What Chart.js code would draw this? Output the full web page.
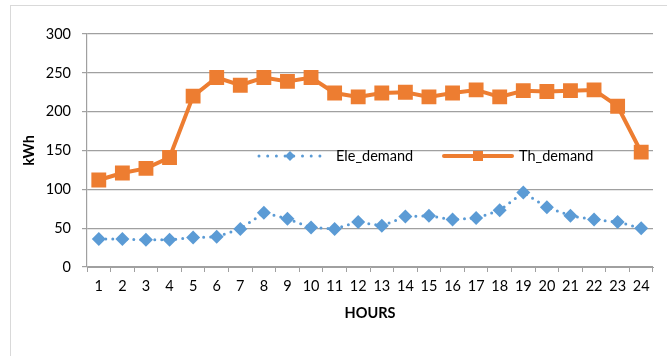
<!DOCTYPE html>
<html>
<head>
<meta charset="utf-8">
<script src="https://cdn.jsdelivr.net/npm/chart.js@4"></script>
<style>
  html, body { margin: 0; padding: 0; background: #fff; }
  #wrap { position: relative; width: 667px; height: 356px; overflow: hidden; }
  #frame { position: absolute; left: 10px; top: 5px; width: 700px; height: 400px; border: 1px solid #d9d9d9; box-sizing: border-box; }
  #demand_chart { position: absolute; left: 0; top: 0; }
</style>
</head>
<body>
<div id="wrap">
  <div id="frame"></div>
  <canvas id="demand_chart" width="667" height="356"></canvas>
</div>
<script>
const hours = ['1', '2', '3', '4', '5', '6', '7', '8', '9', '10', '11', '12',
  '13', '14', '15', '16', '17', '18', '19', '20', '21', '22', '23', '24'];

const ele_demand = [36, 36, 35, 35, 38, 39, 49, 70, 62, 51, 49, 58,
  53, 65, 66, 61, 63, 73, 96, 77, 66, 61, 58, 50];

const th_demand = [112, 121, 127, 141, 220, 244, 234, 244, 239, 244, 224, 219,
  224, 225, 219, 224, 228, 219, 227, 226, 227, 228, 207, 148];

const yTicks = [0, 50, 100, 150, 200, 250, 300];

const blue = '#5b9bd5';
const orange = '#ed7d31';
const gridGray = '#a0a0a0';
const fontFamily = 'Lato, "Open Sans", sans-serif';
const textSize = 14.5;

// legend sits inside the plot, drawn by hand so it can float over the gridlines
const floatingLegend = {
  id: 'floatingLegend',
  afterDraw(chart, args, opts) {
    const { ctx } = chart;
    const y = opts.y;
    ctx.save();

    // Ele_demand sample: dotted line with a diamond
    ctx.strokeStyle = blue;
    ctx.lineWidth = 3;
    ctx.lineCap = 'round';
    ctx.setLineDash([0, 8.7]);
    ctx.beginPath();
    ctx.moveTo(259, y);
    ctx.lineTo(322, y);
    ctx.stroke();
    ctx.setLineDash([]);
    ctx.fillStyle = blue;
    ctx.beginPath();
    ctx.moveTo(290 - 5, y);
    ctx.lineTo(290, y - 5);
    ctx.lineTo(290 + 5, y);
    ctx.lineTo(290, y + 5);
    ctx.closePath();
    ctx.fill();

    // Th_demand sample: solid line with a square
    ctx.strokeStyle = orange;
    ctx.lineWidth = 4;
    ctx.lineCap = 'round';
    ctx.beginPath();
    ctx.moveTo(444, y);
    ctx.lineTo(512, y);
    ctx.stroke();
    ctx.fillStyle = orange;
    ctx.fillRect(478 - 5, y - 5, 10, 10);

    ctx.font = textSize + 'px ' + fontFamily;
    ctx.fillStyle = '#000';
    ctx.textBaseline = 'middle';
    ctx.textAlign = 'left';
    ctx.fillText('Ele_demand', 336, y);
    ctx.fillText('Th_demand', 519, y);
    ctx.restore();
  }
};

const demand_config = {
  type: 'line',
  data: {
    labels: hours,
    datasets: [
      {
        label: 'Ele_demand',
        data: ele_demand,
        borderColor: blue,
        backgroundColor: blue,
        borderWidth: 3,
        borderDash: [0, 7],
        borderCapStyle: 'round',
        pointStyle: 'rectRot',
        pointRadius: 7,
        pointBorderWidth: 0,
        pointBackgroundColor: blue,
        tension: 0
      },
      {
        label: 'Th_demand',
        data: th_demand,
        borderColor: orange,
        backgroundColor: orange,
        borderWidth: 4,
        pointStyle: 'rect',
        pointRadius: 10.5,
        pointBorderWidth: 0,
        pointBackgroundColor: orange,
        tension: 0
      }
    ]
  },
  options: {
    responsive: false,
    animation: false,
    events: [],
    layout: {
      padding: { top: 34, right: 14, left: 0, bottom: 0 }
    },
    plugins: {
      legend: { display: false },
      tooltip: { enabled: false },
      floatingLegend: { y: 156 }
    },
    scales: {
      x: {
        offset: true,
        afterFit(scale) { scale.height = 89; },
        grid: {
          offset: true,
          drawOnChartArea: false,
          drawTicks: true,
          tickLength: 5,
          color: gridGray
        },
        border: { color: gridGray, width: 1 },
        ticks: {
          color: '#000',
          padding: 6,
          maxRotation: 0,
          autoSkip: false,
          font: { family: fontFamily, size: textSize }
        },
        title: {
          display: true,
          text: 'HOURS',
          color: '#000',
          padding: { top: 0, bottom: 34 },
          font: { family: fontFamily, size: textSize, weight: 'bold' }
        }
      },
      y: {
        min: 0,
        max: 300,
        afterFit(scale) { scale.width = 87; },
        afterBuildTicks(scale) {
          scale.ticks = yTicks.map(v => ({ value: v }));
        },
        grid: {
          color: gridGray,
          lineWidth: 1.2,
          drawTicks: true,
          tickLength: 5
        },
        border: { color: gridGray, width: 1.2 },
        ticks: {
          color: '#000',
          padding: 11,
          font: { family: fontFamily, size: textSize }
        },
        title: {
          display: true,
          text: 'kWh',
          color: '#000',
          padding: { top: 21, bottom: 0 },
          font: { family: fontFamily, size: textSize, weight: 'bold' }
        }
      }
    }
  },
  plugins: [floatingLegend]
};

const demand_chart = new Chart(
  document.getElementById('demand_chart'),
  demand_config
);
</script>
</body>
</html>
